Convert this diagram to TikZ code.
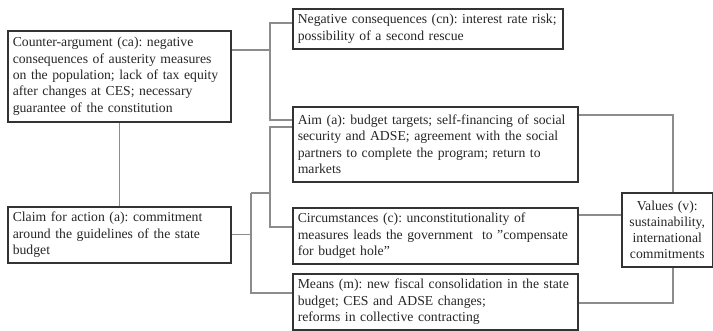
\documentclass[tikz,border=0pt]{standalone}
\usepackage{fontspec}
\setmainfont{Liberation Serif}
\usepackage{tikz}
\usetikzlibrary{positioning, calc}
\frenchspacing
\hyphenpenalty=10000

\begin{document}
\begin{tikzpicture}[
	x=0.03cm, y=-0.03cm,
	arg/.style={rectangle, draw=black!80, line width=1.3pt, anchor=north west, inner xsep=0.15cm, inner ysep=0pt, align=left, text=black!85, font=\fontsize{11.7}{13.9}\selectfont},
	val/.style={arg, align=center, inner xsep=0.08cm},
	link/.style={draw=black!45, line width=0.9pt}
]
\useasboundingbox (0,0) rectangle (713,330);

% Nodes
\node[arg, text width=6.39cm, minimum height=2.73cm] (ca) at (7,30) {Counter-argument (ca): negative\\ consequences of austerity measures\\ on the population; lack of tax equity\\ after changes at CES; necessary\\ guarantee of the constitution};
\node[arg, text width=6.39cm, minimum height=1.68cm] (claim) at (7,206) {Claim for action (a): commitment\\ around the guidelines of the state\\ budget};

\node[arg, text width=7.8cm, minimum height=1.2cm] (neg) at (292,8) {Negative consequences (cn): interest rate risk;\\ possibility of a second rescue};
\node[arg, text width=8.25cm, minimum height=2.25cm] (aim) at (292,106) {Aim (a): budget targets; self-financing of social\\ security and ADSE; agreement with the social\\ partners to complete the program; return to\\ markets};
\node[arg, text width=8.25cm, minimum height=1.68cm] (circ) at (292,207) {Circumstances (c): unconstitutionality of\\ measures leads the government\ \ to \char34compensate\\ for budget hole\char34};
\node[arg, text width=8.25cm, minimum height=1.68cm] (means) at (292,273) {Means (m): new fiscal consolidation in the state\\ budget; CES and ADSE changes;\\ reforms in collective contracting};

\node[val, text width=2.57cm, minimum height=2.22cm] (values) at (621,192) {Values (v):\\ sustainability,\\ international\\ commitments};

% Junctions
\coordinate (ca-j) at (270,50);
\coordinate (t1) at (270,23);
\coordinate (t2) at (270,120);
\coordinate (b1) at (251,193);
\coordinate (b2) at (251,293);
\coordinate (s1) at (270,127);
\coordinate (s2) at (270,227);
\coordinate (r1) at (673,115);
\coordinate (r2) at (600,215);
\coordinate (r3) at (673,303);

% Counter-argument side
\draw[link] (ca.east |- ca-j) -- (ca-j);
\draw[link] (neg.west |- t1) -- (t1) -- (t2) -- (aim.west |- t2);
\draw[link] (ca) -- (claim);

% Claim side
\draw[link] (claim.east) -- (claim.east -| b1);
\draw[link] (b1) -- (b2) -- (means.west |- b2);
\draw[link] (b1) -- (b1 -| s1);
\draw[link] (aim.west |- s1) -- (s1) -- (s2) -- (circ.west |- s2);

% Values
\draw[link] (aim.east |- r1) -- (r1) -- (values.north -| r1);
\draw[link] (circ.east |- r2) -- (values.west |- r2);
\draw[link] (values.south -| r3) -- (r3) -- (means.east |- r3);

\end{tikzpicture}
\end{document}
